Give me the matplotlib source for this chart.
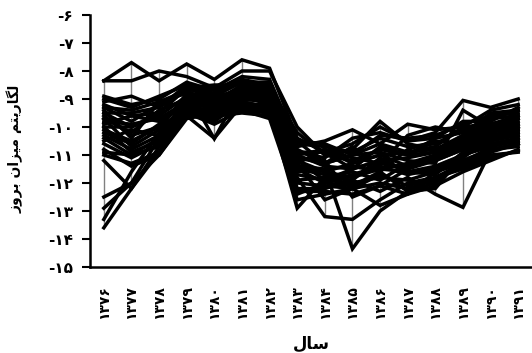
import numpy as np
import matplotlib
matplotlib.use("Agg")
import matplotlib.pyplot as plt

# years 1376..1391 (Persian calendar)
years = list(range(1376, 1392))

# log incidence rate per province (one row per series)
series = [
    [-8.35, -7.7, -8.35, -7.75, -8.3, -7.6, -7.9, -10.4, -10.9, -10.6, -10.0, -10.5, -10.2, -9.05, -9.3, -9.0],
    [-8.35, -8.35, -8.0, -8.2, -8.6, -8.0, -8.0, -10.0, -11.0, -11.2, -10.8, -11.0, -10.9, -10.3, -9.5, -9.4],
    [-9.0, -9.3, -8.9, -8.5, -8.8, -8.3, -8.5, -10.8, -11.3, -11.0, -10.6, -10.9, -10.7, -10.0, -9.9, -9.7],
    [-9.3, -9.8, -9.2, -8.7, -9.2, -8.6, -8.7, -11.0, -11.4, -11.5, -11.2, -11.1, -10.9, -10.5, -10.2, -10.0],
    [-9.5, -10.0, -9.6, -8.9, -9.0, -8.8, -8.9, -11.2, -11.6, -11.3, -11.0, -11.4, -11.2, -10.8, -10.4, -10.3],
    [-9.7, -10.2, -9.4, -9.0, -9.4, -9.0, -9.1, -11.5, -11.7, -11.8, -11.5, -11.6, -11.4, -11.0, -10.6, -10.5],
    [-9.9, -9.6, -9.8, -9.2, -9.5, -9.1, -9.3, -11.7, -11.9, -12.0, -11.8, -11.9, -11.6, -11.2, -10.8, -10.7],
    [-10.1, -10.5, -10.0, -9.4, -9.7, -9.3, -9.5, -12.0, -12.1, -12.2, -12.0, -12.2, -11.9, -11.4, -11.0, -10.9],
    [-10.3, -10.8, -10.3, -9.5, -9.6, -9.5, -9.6, -12.3, -12.3, -12.4, -12.1, -12.4, -12.1, -11.6, -11.2, -10.8],
    [-10.6, -11.1, -10.6, -9.6, -10.4, -9.2, -9.4, -12.9, -11.8, -11.9, -12.3, -11.8, -12.4, -12.87, -10.85, -10.6],
    [-11.0, -11.3, -10.9, -9.5, -9.9, -9.4, -9.7, -12.6, -12.4, -12.2, -11.7, -12.1, -11.8, -11.5, -11.1, -10.85],
    [-11.2, -12.2, -10.7, -9.3, -9.6, -9.2, -9.2, -11.8, -13.2, -13.3, -12.6, -12.0, -11.8, -11.3, -10.9, -10.6],
    [-12.9, -12.0, -10.4, -9.1, -9.3, -9.0, -9.0, -11.4, -11.5, -14.35, -13.0, -12.3, -12.2, -11.0, -10.7, -10.4],
    [-13.6, -12.2, -10.9, -9.4, -9.5, -9.3, -9.3, -11.3, -12.6, -12.2, -12.8, -12.4, -11.6, -11.3, -10.7, -10.5],
    [-13.3, -11.6, -10.2, -9.2, -9.3, -8.9, -9.0, -11.1, -11.2, -12.5, -12.1, -11.5, -11.0, -10.6, -10.3, -10.1],
    [-12.5, -12.0, -11.0, -9.7, -9.5, -9.4, -9.5, -11.5, -12.0, -11.7, -11.4, -11.7, -11.5, -11.1, -10.4, -10.2],
    [-8.9, -9.2, -9.0, -8.4, -8.7, -8.2, -8.3, -10.6, -10.7, -10.9, -10.4, -10.7, -10.6, -10.1, -9.7, -9.6],
    [-9.2, -9.6, -9.5, -8.6, -8.5, -8.5, -8.6, -10.9, -11.1, -10.4, -10.2, -10.5, -10.4, -9.8, -9.8, -9.3],
    [-9.4, -10.4, -9.1, -8.8, -9.0, -8.7, -8.8, -11.3, -10.8, -11.1, -11.3, -10.3, -10.0, -10.2, -9.6, -9.5],
    [-9.6, -10.3, -10.0, -8.9, -9.1, -8.5, -8.6, -10.2, -11.0, -10.8, -9.8, -10.6, -10.8, -10.4, -10.0, -9.8],
    [-9.8, -9.9, -9.7, -9.1, -9.2, -8.6, -8.9, -11.6, -11.5, -11.4, -11.6, -10.8, -10.5, -10.6, -10.1, -9.9],
    [-10.0, -10.9, -10.5, -9.3, -9.4, -8.9, -9.2, -11.9, -11.8, -11.6, -11.9, -11.3, -11.1, -10.7, -10.3, -10.2],
    [-10.2, -10.6, -9.9, -9.0, -9.3, -8.8, -9.0, -12.2, -12.2, -11.9, -11.1, -11.6, -11.7, -10.9, -10.5, -10.3],
    [-10.4, -11.0, -10.7, -9.5, -9.8, -9.1, -9.3, -12.4, -12.0, -12.1, -11.6, -12.3, -12.0, -11.2, -10.8, -10.6],
    [-10.8, -11.4, -11.0, -9.6, -9.7, -9.3, -9.4, -10.5, -11.3, -11.0, -10.9, -11.2, -11.3, -9.4, -10.0, -10.1],
    [-9.1, -8.9, -9.3, -8.5, -8.9, -8.4, -8.4, -10.7, -10.5, -10.1, -10.6, -9.9, -10.1, -10.0, -9.4, -9.2],
    [-10.0, -10.0, -9.5, -8.6, -9.0, -8.6, -8.7, -10.9, -10.9, -11.5, -10.7, -11.0, -10.4, -10.2, -9.9, -9.7],
    [-9.7, -10.7, -10.1, -8.8, -8.9, -8.7, -8.8, -11.1, -11.3, -10.7, -11.5, -11.3, -11.0, -10.5, -10.1, -9.9],
    [-10.5, -10.1, -10.3, -9.0, -9.1, -8.9, -9.0, -11.4, -11.6, -11.8, -11.3, -11.5, -11.2, -10.8, -10.4, -10.0],
    [-9.3, -9.4, -9.1, -8.7, -8.6, -8.4, -8.5, -10.5, -10.6, -11.0, -10.3, -10.4, -10.3, -9.9, -9.6, -9.4],
    [-10.9, -11.0, -10.4, -9.2, -9.2, -9.0, -9.1, -11.2, -11.9, -11.5, -11.2, -11.6, -11.6, -11.0, -10.6, -10.4],
    [-9.5, -9.5, -9.3, -8.7, -10.42, -8.6, -8.9, -11.0, -10.8, -11.3, -11.0, -10.9, -10.8, -10.3, -9.9, -9.6],
]

y_ticks = list(range(-15, -5))

# axis titles, written with Arabic presentation forms in visual order
x_title = "\uFEDD\uFE8E\uFEB3"  # سال
y_title = ("\uFEAF\uFEED\uFEAE\uFE91 "  # بروز
           "\uFEE5\uFE8D\uFEB0\uFBFF\uFEE3 "  # میزان
           "\uFEE2\uFE98\uFBFE\uFEAD\uFE8E\uFB95\uFEDF")  # لگاریتم

FA = str.maketrans("0123456789", "۰۱۲۳۴۵۶۷۸۹")


def fa(n):
    s = str(abs(n)).translate(FA)
    return "-" + s if n < 0 else s


data = np.array(series)
x = np.arange(len(years))

fig = plt.figure(figsize=(5.32, 3.53), dpi=100)
ax = fig.add_axes([90 / 532, 1 - 267 / 353, 1 - 90 / 532, (267 - 15) / 353])

# high-low lines
ax.vlines(x, data.min(axis=0), data.max(axis=0), color="#808080", lw=1, zorder=1)
for row in data:
    ax.plot(x, row, color="black", lw=2.5, zorder=2, solid_joinstyle="miter")

ax.set_xlim(-0.5, len(years) - 0.5)
ax.set_ylim(-15, -6)
ax.set_yticks(y_ticks)
ax.set_yticklabels([fa(v) for v in y_ticks], fontsize=11, fontweight="bold")
ax.set_xticks(x)
ax.set_xticklabels([fa(y) for y in years], rotation=90, fontsize=10, fontweight="bold")
ax.tick_params(axis="x", length=0, pad=13)
ax.tick_params(axis="y", length=6, width=1.5, pad=6, direction="out")

for side in ("top", "right"):
    ax.spines[side].set_visible(False)
for side in ("left", "bottom"):
    ax.spines[side].set_linewidth(1.8)

ax.set_xlabel(x_title, fontsize=12, fontweight="bold")
ax.xaxis.set_label_coords(0.5, -0.27)
ax.set_ylabel(y_title, fontsize=10, fontweight="bold")
ax.yaxis.set_label_coords(-0.15, 0.47)

fig.savefig("out.png", dpi=100)
